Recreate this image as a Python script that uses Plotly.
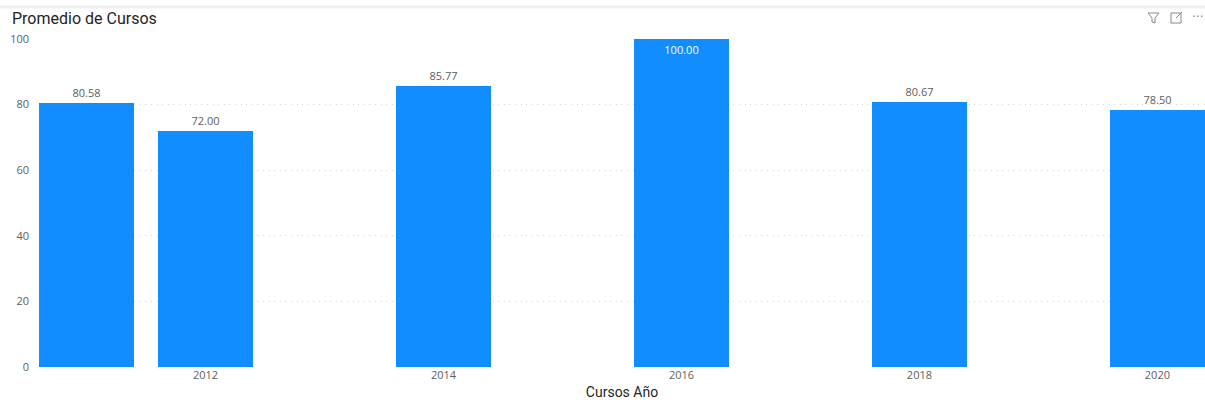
import plotly.graph_objects as go

# Average course score per year
years = [2011, 2012, 2014, 2016, 2018, 2020]
promedio = [80.58, 72.00, 85.77, 100.00, 80.67, 78.50]
tick_years = [2012, 2014, 2016, 2018, 2020]
y_ticks = [0, 20, 40, 60, 80, 100]

W, H = 1205, 403
ML, MR, MT, MB = 39, 0, 39, 36
PW = W - ML - MR
PH = H - MT - MB


def px_x(px):
    return (px - ML) / PW


def px_y(py):
    return 1 - (py - MT) / PH


BLUE = "#118DFF"
LABEL = "#605E5C"
DARK = "#252423"

text_pos = ["inside" if v >= 100 else "outside" for v in promedio]
text_col = ["#FFFFFF" if v >= 100 else LABEL for v in promedio]

fig = go.Figure(
    go.Bar(
        x=years,
        y=promedio,
        width=0.8,
        marker=dict(color=BLUE, line=dict(width=0)),
        text=[f"{v:.2f}" for v in promedio],
        texttemplate="%{text}",
        textposition=text_pos,
        insidetextanchor="end",
        textangle=0,
        textfont=dict(family="Open Sans", size=11, color=text_col),
        outsidetextfont=dict(family="Open Sans", size=11, color=LABEL),
        insidetextfont=dict(family="Open Sans", size=11, color="#FFFFFF"),
        cliponaxis=False,
        hoverinfo="x+y",
    )
)

fig.update_layout(
    width=W,
    height=H,
    margin=dict(l=ML, r=MR, t=MT, b=MB, pad=0),
    paper_bgcolor="white",
    plot_bgcolor="white",
    showlegend=False,
    bargap=0,
    uniformtext=dict(mode=False),
    xaxis=dict(
        range=[2010.6, 2020.4],
        tickvals=tick_years,
        ticktext=[str(t) for t in tick_years],
        showgrid=False,
        zeroline=False,
        showline=False,
        ticks="",
        tickfont=dict(family="Open Sans", size=11, color=LABEL),
        title=dict(text="Cursos Año", font=dict(family="Roboto", size=14, color=DARK), standoff=6),
    ),
    yaxis=dict(
        range=[0, 100],
        tickvals=y_ticks,
        showgrid=True,
        gridcolor="#D4D4D4",
        griddash="1px,4.6px",
        gridwidth=1,
        zeroline=False,
        showline=False,
        ticks="",
        ticklabelstandoff=9,
        tickfont=dict(family="Open Sans", size=11, color=LABEL),
    ),
    shapes=[
        # header separator strip
        dict(type="line", xref="paper", yref="paper",
             x0=px_x(0), x1=px_x(W), y0=px_y(7), y1=px_y(7),
             line=dict(color="#EFEFEF", width=3)),
        # filter funnel icon
        dict(type="path", xref="paper", yref="paper",
             path=(f"M {px_x(1148)} {px_y(13)} L {px_x(1159)} {px_y(13)} "
                   f"L {px_x(1155)} {px_y(18)} L {px_x(1155)} {px_y(23)} "
                   f"L {px_x(1152)} {px_y(22)} L {px_x(1152)} {px_y(18)} Z"),
             line=dict(color="#8A8886", width=1), fillcolor="rgba(0,0,0,0)"),
        # focus-mode icon frame
        dict(type="rect", xref="paper", yref="paper",
             x0=px_x(1171), x1=px_x(1181), y0=px_y(13), y1=px_y(23),
             line=dict(color="#8A8886", width=1), fillcolor="rgba(0,0,0,0)"),
        dict(type="line", xref="paper", yref="paper",
             x0=px_x(1176), x1=px_x(1182), y0=px_y(18), y1=px_y(12),
             line=dict(color="#8A8886", width=1)),
    ],
    annotations=[
        dict(text="Promedio de Cursos", xref="paper", yref="paper",
             x=px_x(10), y=px_y(18), xanchor="left", yanchor="middle",
             showarrow=False, font=dict(family="Roboto", size=16, color=DARK)),
        dict(text="···", xref="paper", yref="paper",
             x=px_x(1197), y=px_y(17), xanchor="center", yanchor="middle",
             showarrow=False, font=dict(family="DejaVu Sans", size=12, color="#8A8886")),
    ],
)

fig.write_html("out.html")
